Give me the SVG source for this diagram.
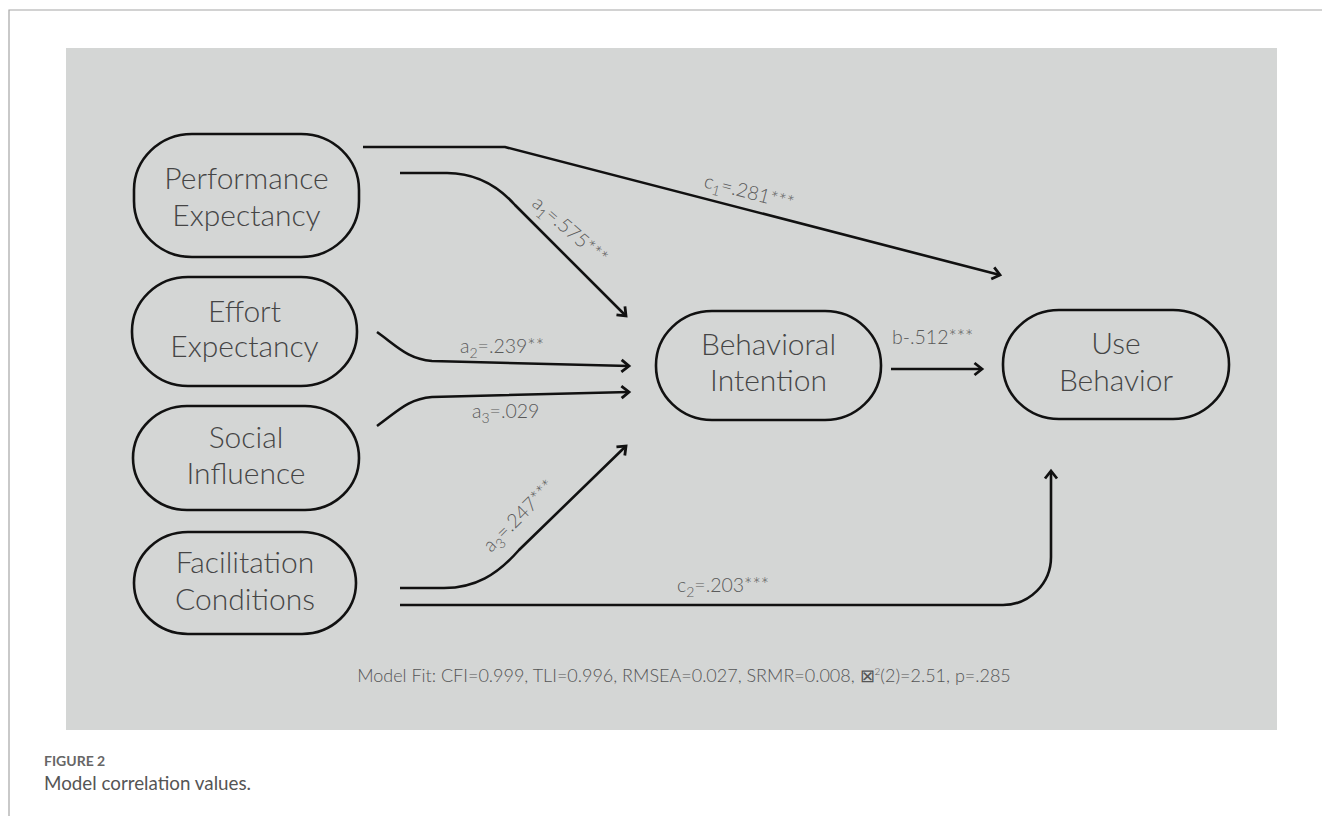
<svg xmlns="http://www.w3.org/2000/svg" width="1322" height="816" viewBox="0 0 1322 816">
<style>
.frame{stroke:#a6a6a6;stroke-width:1.2;fill:none}
.panel{fill:#d4d6d5}
.node{fill:none;stroke:#111;stroke-width:2.6}
.nt{font-family:Lato,"Open Sans","Liberation Sans",sans-serif;font-weight:300;font-size:30px;fill:#454545;text-anchor:middle}
.edge{fill:none;stroke:#111;stroke-width:2.6;marker-end:url(#arr)}
.lbl{font-family:Lato,"Open Sans","Liberation Sans",sans-serif;font-weight:300;font-size:19.5px;fill:#5a5a5a}
.sub{font-size:14px}
.fit{font-family:Lato,"Open Sans","Liberation Sans",sans-serif;font-weight:300;font-size:18px;fill:#555;text-anchor:middle}
.cap1{font-family:Lato,"Open Sans","Liberation Sans",sans-serif;font-weight:700;font-size:14px;fill:#666}
.cap2{font-family:Lato,"Open Sans","Liberation Sans",sans-serif;font-weight:400;font-size:18.8px;fill:#555}
</style>
<defs>
<marker id="arr" markerUnits="userSpaceOnUse" markerWidth="16" markerHeight="16" refX="11" refY="8" orient="auto">
<path d="M3.5,2 L11,8 L3.5,14" fill="none" stroke="#111" stroke-width="2.8"/>
</marker>
</defs>
<rect width="1322" height="816" fill="#fff"/>
<path class="frame" d="M9,816 V10 H1322"/>
<rect class="panel" x="66" y="48" width="1211" height="682"/>

<g id="performance-expectancy">
<rect class="node" x="134" y="134" width="225" height="123" rx="58" ry="56"/>
<text class="nt" x="246.5" y="189">Performance</text>
<text class="nt" x="246.5" y="226">Expectancy</text>
</g>
<g id="effort-expectancy">
<rect class="node" x="132" y="277" width="225" height="109" rx="56" ry="54"/>
<text class="nt" x="244.5" y="322">Effort</text>
<text class="nt" x="244.5" y="357">Expectancy</text>
</g>
<g id="social-influence">
<rect class="node" x="133" y="406" width="226" height="104" rx="54" ry="52"/>
<text class="nt" x="246" y="448">Social</text>
<text class="nt" x="246" y="484">Influence</text>
</g>
<g id="facilitation-conditions">
<rect class="node" x="134" y="532" width="222" height="102" rx="54" ry="51"/>
<text class="nt" x="245" y="573">Facilitation</text>
<text class="nt" x="245" y="610">Conditions</text>
</g>
<g id="behavioral-intention">
<rect class="node" x="656" y="311" width="225" height="109" rx="56" ry="54"/>
<text class="nt" x="768.5" y="355">Behavioral</text>
<text class="nt" x="768.5" y="391">Intention</text>
</g>
<g id="use-behavior">
<rect class="node" x="1003" y="310" width="226" height="109" rx="56" ry="54"/>
<text class="nt" x="1116" y="354">Use</text>
<text class="nt" x="1116" y="391">Behavior</text>
</g>

<g id="connectors">
<path class="edge" d="M363,147 L505,147 L1000,275"/>
<path class="edge" d="M400,173 H447 C475,173 497,185 515,205 L626,316"/>
<path class="edge" d="M377,332 C398,347 408,359 432,361 L629,366"/>
<path class="edge" d="M377,426 C398,411 408,399 432,397 L629,392"/>
<path class="edge" d="M400,588 H444 C475,588 497,575 519,550 L626,446"/>
<path class="edge" d="M400,605 H1003 A48,48 0 0 0 1051,557 V471"/>
<path class="edge" d="M891,369 H982"/>
</g>

<g id="labels">
<text class="lbl" transform="translate(703,187) rotate(14.6)">c<tspan class="sub" dy="5">1</tspan><tspan dy="-5">=.281***</tspan></text>
<text class="lbl" transform="translate(531,205) rotate(41)">a<tspan class="sub" dy="5">1</tspan><tspan dy="-5">=.575***</tspan></text>
<text class="lbl" x="460" y="353">a<tspan class="sub" dy="5">2</tspan><tspan dy="-5">=.239**</tspan></text>
<text class="lbl" x="472" y="418">a<tspan class="sub" dy="5">3</tspan><tspan dy="-5">=.029</tspan></text>
<text class="lbl" transform="translate(491,553) rotate(-45)">a<tspan class="sub" dy="5">3</tspan><tspan dy="-5">=.247***</tspan></text>
<text class="lbl" x="677" y="592">c<tspan class="sub" dy="5">2</tspan><tspan dy="-5">=.203***</tspan></text>
<text class="lbl" x="892" y="344">b-.512***</text>
</g>

<text class="fit" x="684" y="682">Model Fit: CFI=0.999, TLI=0.996, RMSEA=0.027, SRMR=0.008, ⊠<tspan font-size="10" dy="-7">2</tspan><tspan dy="7">(2)=2.51, p=.285</tspan></text>

<text class="cap1" x="44" y="766">FIGURE 2</text>
<text class="cap2" x="44" y="790">Model correlation values.</text>
</svg>
